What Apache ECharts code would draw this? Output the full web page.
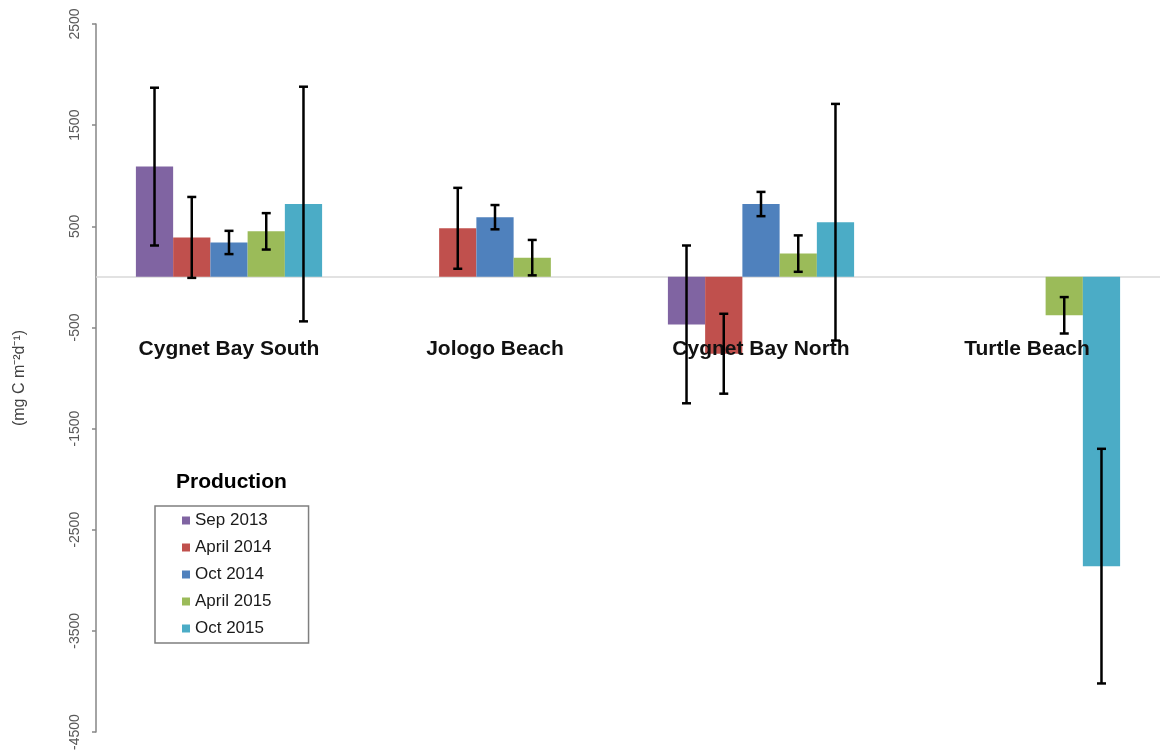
<!DOCTYPE html>
<html>
<head>
<meta charset="utf-8">
<script src="https://cdn.jsdelivr.net/npm/echarts@6/dist/echarts.min.js"></script>
<style>
html,body{margin:0;padding:0;background:#fff;}
#chart{width:1160px;height:756px;}
</style>
</head>
<body>
<div id="chart"></div>
<script>
const categories = ['Cygnet Bay South', 'Jologo Beach', 'Cygnet Bay North', 'Turtle Beach'];
const seriesNames = ['Sep 2013', 'April 2014', 'Oct 2014', 'April 2015', 'Oct 2015'];
const sep2013 = [1090, null, -470, null];
const apr2014 = [390, 480, -760, null];
const oct2014 = [340, 590, 720, null];
const apr2015 = [450, 190, 230, -380];
const oct2015 = [720, null, 540, -2860];
const sep2013Err = [780, null, 780, null];
const apr2014Err = [400, 400, 395, null];
const oct2014Err = [115, 120, 120, null];
const apr2015Err = [180, 175, 180, 180];
const oct2015Err = [1160, null, 1170, 1160];
const yTicks = [-4500, -3500, -2500, -1500, -500, 500, 1500, 2500];

const values = [sep2013, apr2014, oct2014, apr2015, oct2015];
const errors = [sep2013Err, apr2014Err, oct2014Err, apr2015Err, oct2015Err];
const colors = ['#8064A2', '#C0504D', '#4F81BD', '#9BBB59', '#4BACC6'];
const gapRatio = 0.30;
const nSeries = values.length;

const chart = echarts.init(document.getElementById('chart'));

const series = [];
values.forEach((vals, i) => {
  const s = {
    name: seriesNames[i],
    type: 'bar',
    data: vals,
    barGap: '0%',
    barCategoryGap: '30%',
    itemStyle: { color: colors[i] },
    z: 2
  };
  if (i === 0) {
    s.markLine = {
      silent: true,
      symbol: 'none',
      label: { show: false },
      lineStyle: { color: '#d9d9d9', width: 1.5, type: 'solid' },
      data: [{ yAxis: 0 }],
      z: 1
    };
  }
  series.push(s);
});
values.forEach((vals, i) => {
  const d = [];
  vals.forEach((v, c) => {
    if (v !== null && errors[i][c] !== null) d.push([c, v - errors[i][c], v + errors[i][c]]);
  });
  series.push({
    type: 'custom',
    name: seriesNames[i] + ' err',
    z: 12,
    silent: true,
    data: d,
    renderItem: function (params, api) {
      const c = api.value(0);
      const lo = api.coord([c, api.value(1)]);
      const hi = api.coord([c, api.value(2)]);
      const bandW = api.size([1, 0])[0];
      const barW = bandW * (1 - gapRatio) / nSeries;
      const x = lo[0] + (i - (nSeries - 1) / 2) * barW;
      const cap = 4.5;
      const st = { stroke: '#000', lineWidth: 2.5 };
      return {
        type: 'group',
        children: [
          { type: 'line', shape: { x1: x, y1: lo[1], x2: x, y2: hi[1] }, style: st },
          { type: 'line', shape: { x1: x - cap, y1: lo[1], x2: x + cap, y2: lo[1] }, style: st },
          { type: 'line', shape: { x1: x - cap, y1: hi[1], x2: x + cap, y2: hi[1] }, style: st }
        ]
      };
    }
  });
});

chart.setOption({
  animation: false,
  backgroundColor: '#fff',
  grid: { left: 96, right: 0, top: 24, bottom: 24, containLabel: false, outerBoundsMode: 'none' },
  title: {
    text: 'Production',
    left: 176, top: 472,
    textStyle: { fontFamily: 'Liberation Sans, Arial, sans-serif', fontWeight: 'bold', fontSize: 21, color: '#000' },
    padding: 0
  },
  legend: {
    orient: 'vertical',
    left: 155, top: 506,
    data: seriesNames,
    icon: 'rect',
    itemWidth: 8, itemHeight: 8,
    itemGap: 10,
    padding: [6, 37, 6, 27],
    borderColor: '#7f7f7f', borderWidth: 1.5,
    textStyle: { fontFamily: 'Liberation Sans, Arial, sans-serif', fontSize: 17, color: '#1a1a1a' }
  },
  xAxis: {
    type: 'category',
    data: categories,
    z: 10,
    axisLine: { show: false, onZero: false },
    axisTick: { show: false },
    axisLabel: {
      margin: -393,
      interval: 0,
      fontFamily: 'Liberation Sans, Arial, sans-serif',
      fontWeight: 'bold', fontSize: 21, color: '#111'
    },
    splitLine: { show: false }
  },
  yAxis: {
    type: 'value',
    min: -4500, max: 2500, interval: 1000,
    name: '(mg C m\u207B\u00B2d\u207B\u00B9)',
    nameLocation: 'middle',
    nameGap: 68,
    nameRotate: 90,
    nameTextStyle: { fontFamily: 'Liberation Sans, Arial, sans-serif', fontSize: 16, color: '#404040' },
    axisLine: { show: true, onZero: false, lineStyle: { color: '#868686', width: 1.5 } },
    axisTick: { show: true, length: 4, lineStyle: { color: '#868686', width: 1.5 } },
    axisLabel: {
      rotate: 90,
      margin: 14,
      fontFamily: 'Liberation Sans, Arial, sans-serif',
      fontSize: 14, color: '#595959',
      formatter: function (v) { return yTicks.indexOf(v) >= 0 ? String(v) : ''; }
    },
    splitLine: { show: false }
  },
  series: series
});
</script>
</body>
</html>
